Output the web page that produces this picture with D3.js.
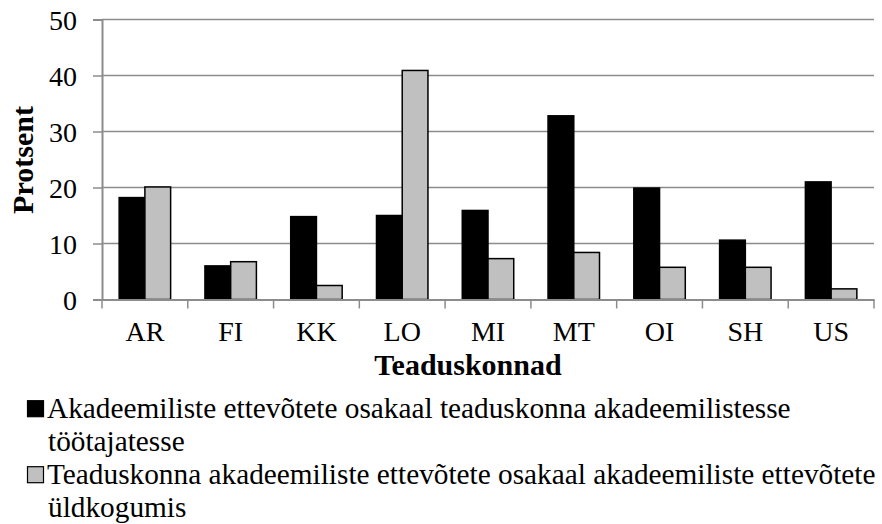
<!DOCTYPE html>
<html><head><meta charset="utf-8">
<script src="https://cdn.jsdelivr.net/npm/d3@7"></script>
<style>body{margin:0;background:#fff}svg{display:block}text{font-family:"Liberation Serif","Times New Roman",serif}</style>
</head><body><svg id="c" width="882" height="524"></svg>
<script>
const categories = ["AR","FI","KK","LO","MI","MT","OI","SH","US"];
const seriesA = [18.2, 6.0, 14.8, 15.0, 15.9, 32.8, 19.9, 10.6, 21.0];
const seriesB = [20.1, 6.75, 2.5, 40.9, 7.3, 8.4, 5.75, 5.75, 1.9];
const seriesNames = [
  ["Akadeemiliste ettevõtete osakaal teaduskonna akadeemilistesse", "töötajatesse"],
  ["Teaduskonna akadeemiliste ettevõtete osakaal akadeemiliste ettevõtete", "üldkogumis"]
];
const yTicks = [0,10,20,30,40,50];
const colors = ["#000000", "#c0c0c0"];

const svg = d3.select("#c");
const L = 102, R = 874, T = 19.5, B = 299.5;
const x0 = d3.scaleBand().domain(categories).range([L, R]).padding(0);
const bw = x0.bandwidth();
const x1 = d3.scaleBand().domain([0,1]).range([bw*0.2, bw*0.8]).padding(0);
const y = d3.scaleLinear().domain([0,50]).range([B, T]);

// gridlines
svg.append("g").selectAll("line").data(yTicks.filter(d=>d>0)).join("line")
  .attr("x1", L).attr("x2", R).attr("y1", d=>y(d)).attr("y2", d=>y(d))
  .attr("stroke", "#8c8c8c").attr("stroke-width", 1.5);

// y axis
const yAxis = d3.axisLeft(y).tickValues(yTicks).tickSize(9).tickPadding(16);
const gy = svg.append("g").attr("transform", `translate(${L},0)`).call(yAxis);
gy.select(".domain").attr("stroke", "#8c8c8c").attr("stroke-width", 2);
gy.selectAll(".tick line").attr("stroke", "#8c8c8c").attr("stroke-width", 1.5);
gy.selectAll(".tick text").attr("font-size", 28).attr("fill", "#000")
  .attr("font-family", "Liberation Serif").attr("dy", "0.34em");

// bars
const data = categories.map((c,i)=>({c, v:[seriesA[i], seriesB[i]]}));
const groups = svg.append("g").selectAll("g").data(data).join("g")
  .attr("transform", d=>`translate(${x0(d.c)},0)`);
groups.selectAll("rect").data(d=>d.v.map((v,k)=>({v,k}))).join("rect")
  .attr("x", d=>x1(d.k)).attr("width", x1.bandwidth())
  .attr("y", d=>y(d.v)).attr("height", d=>B - y(d.v))
  .attr("fill", d=>colors[d.k]).attr("stroke", "#000").attr("stroke-width", 1.5);

// x axis
const xAxis = d3.axisBottom(x0).tickSize(0).tickPadding(22);
const gx = svg.append("g").attr("transform", `translate(0,${B})`).call(xAxis);
gx.select(".domain").attr("stroke", "#8c8c8c").attr("stroke-width", 2);
gx.selectAll(".tick text").attr("font-size", 28).attr("fill", "#000").attr("font-family", "Liberation Serif");
// category boundary ticks
svg.append("g").selectAll("line").data(categories.concat(["__end"])).join("line")
  .attr("x1", (d,i)=> i<categories.length ? x0(d) : R)
  .attr("x2", (d,i)=> i<categories.length ? x0(d) : R)
  .attr("y1", B).attr("y2", B+9).attr("stroke", "#8c8c8c").attr("stroke-width", 1.5);

// axis titles
svg.append("text").attr("transform", "translate(33.3,160) rotate(-90)")
  .attr("text-anchor", "middle").attr("font-size", 30).attr("font-weight", "bold").text("Protsent");
svg.append("text").attr("x", 468).attr("y", 375).attr("text-anchor", "middle")
  .attr("font-size", 30).attr("font-weight", "bold").text("Teaduskonnad");

// legend
const legY = [417.7, 483.7];
seriesNames.forEach((lines, k)=>{
  const g = svg.append("g");
  g.append("rect").attr("x", 27.5).attr("y", legY[k] - 17).attr("width", 16).attr("height", 16)
    .attr("fill", colors[k]).attr("stroke", "#000").attr("stroke-width", 1.2);
  g.append("text").attr("x", 47).attr("y", legY[k]).attr("font-size", 29.3).text(lines[0]);
  g.append("text").attr("x", 48).attr("y", legY[k] + 33).attr("font-size", 29.3).text(lines[1]);
});
</script></body></html>
